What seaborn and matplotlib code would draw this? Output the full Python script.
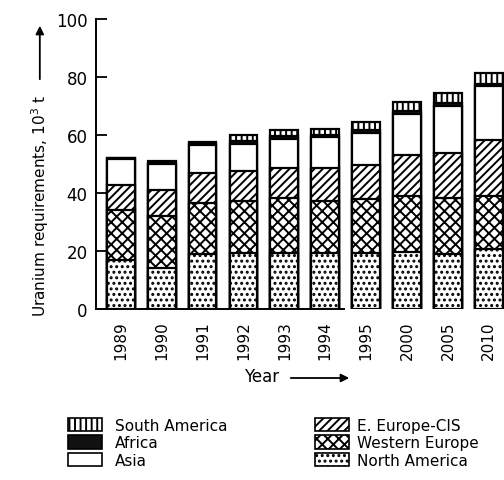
import numpy as np
import matplotlib
matplotlib.use("Agg")
import matplotlib.pyplot as plt
import seaborn as sns
from matplotlib.patches import Patch

# uranium requirements by region, 10^3 t
years = ['1989', '1990', '1991', '1992', '1993', '1994', '1995', '2000', '2005', '2010']
north_america = [17.0, 14.1, 19.0, 19.2, 19.2, 19.2, 19.2, 19.5, 19.0, 20.7]
western_europe = [17.3, 17.9, 17.6, 18.1, 19.0, 18.1, 18.7, 19.4, 19.3, 18.4]
east_europe_cis = [8.6, 9.0, 10.3, 10.3, 10.6, 11.5, 11.8, 14.3, 15.4, 19.2]
asia = [9.0, 9.2, 9.6, 9.2, 10.0, 10.4, 11.2, 14.0, 16.4, 18.5]
africa = [0.3, 0.3, 0.8, 1.0, 1.0, 1.0, 1.0, 1.0, 1.0, 1.0]
south_america = [0.0, 0.5, 0.4, 2.2, 1.8, 1.8, 2.5, 3.3, 3.3, 3.5]

sns.set_style("white")
plt.rcParams['font.family'] = ['DejaVu Sans']
plt.rcParams['hatch.linewidth'] = 1.4
for key in ['text.color', 'axes.labelcolor', 'xtick.color', 'ytick.color', 'axes.edgecolor']:
    plt.rcParams[key] = 'black'

fig = plt.figure(figsize=(5.04, 4.81), dpi=100)
ax = fig.add_axes([0.190, 0.3555, 0.81, 0.6025])

# bottom to top
layers = [
    ('North America', north_america, '...', 'white'),
    ('Western Europe', western_europe, 'xxx', 'white'),
    ('E. Europe-CIS', east_europe_cis, '////', 'white'),
    ('Asia', asia, '', 'white'),
    ('Africa', africa, '', '#111111'),
    ('South America', south_america, '|||', 'white'),
]

# stacked bars: draw cumulative totals from the top layer down
cum = np.cumsum([np.array(v) for _, v, _, _ in layers], axis=0)
for i in range(len(layers) - 1, -1, -1):
    name, vals, hatch, fc = layers[i]
    sns.barplot(x=years, y=cum[i], order=years, color=fc, width=0.68,
                edgecolor='black', linewidth=1.6, hatch=hatch,
                errorbar=None, saturation=1, ax=ax)

ax.set_xlim(-0.61, 9.37)
ax.set_ylim(0, 100)
ax.set_yticks([0, 20, 40, 60, 80, 100])
ax.tick_params(axis='y', left=True, direction='in', length=8, width=1.3,
               pad=6, labelsize=12)
ax.tick_params(axis='x', length=0, pad=8, labelsize=11, labelrotation=90)
for s in ['top', 'right']:
    ax.spines[s].set_visible(False)
ax.spines['left'].set_linewidth(1.4)
ax.spines['bottom'].set_linewidth(1.4)
ax.spines['bottom'].set_bounds(-0.61, 5.45)
ax.set_xlabel('')
ax.set_ylabel('')

# axis titles with arrows
fig.text(0.079, 0.572, 'Uranium requirements, 10$^3$ t', rotation=90,
         ha='center', va='center', fontsize=11)
ax.annotate('', xy=(0.079, 1 - 24 / 481), xytext=(0.079, 1 - 83 / 481),
            xycoords='figure fraction', textcoords='figure fraction',
            arrowprops=dict(arrowstyle='-|>', color='black', lw=1.3,
                            mutation_scale=12))
fig.text(0.52, 1 - 377 / 481, 'Year', ha='center', va='center', fontsize=12)
ax.annotate('', xy=(352 / 504, 1 - 379 / 481), xytext=(288 / 504, 1 - 379 / 481),
            xycoords='figure fraction', textcoords='figure fraction',
            arrowprops=dict(arrowstyle='-|>', color='black', lw=1.3,
                            mutation_scale=12))

# legends
style = {name: (hatch, fc) for name, _, hatch, fc in layers}


def handle(name):
    hatch, fc = style[name]
    return Patch(facecolor=fc, edgecolor='black', hatch=hatch, linewidth=1.2, label=name)


left_names = ['South America', 'Africa', 'Asia']
right_names = ['E. Europe-CIS', 'Western Europe', 'North America']
common = dict(loc='upper left', frameon=False, fontsize=11, handlelength=2.2,
              handleheight=0.98, labelspacing=0.16, borderpad=0, borderaxespad=0)
leg1 = fig.legend(handles=[handle(n) for n in left_names],
                  bbox_to_anchor=(68 / 504, 1 - 419 / 481),
                  handletextpad=0.85, **common)
leg2 = fig.legend(handles=[handle(n) for n in right_names],
                  bbox_to_anchor=(315 / 504, 1 - 419 / 481),
                  handletextpad=0.52, **common)

fig.savefig('out.png', dpi=100)
